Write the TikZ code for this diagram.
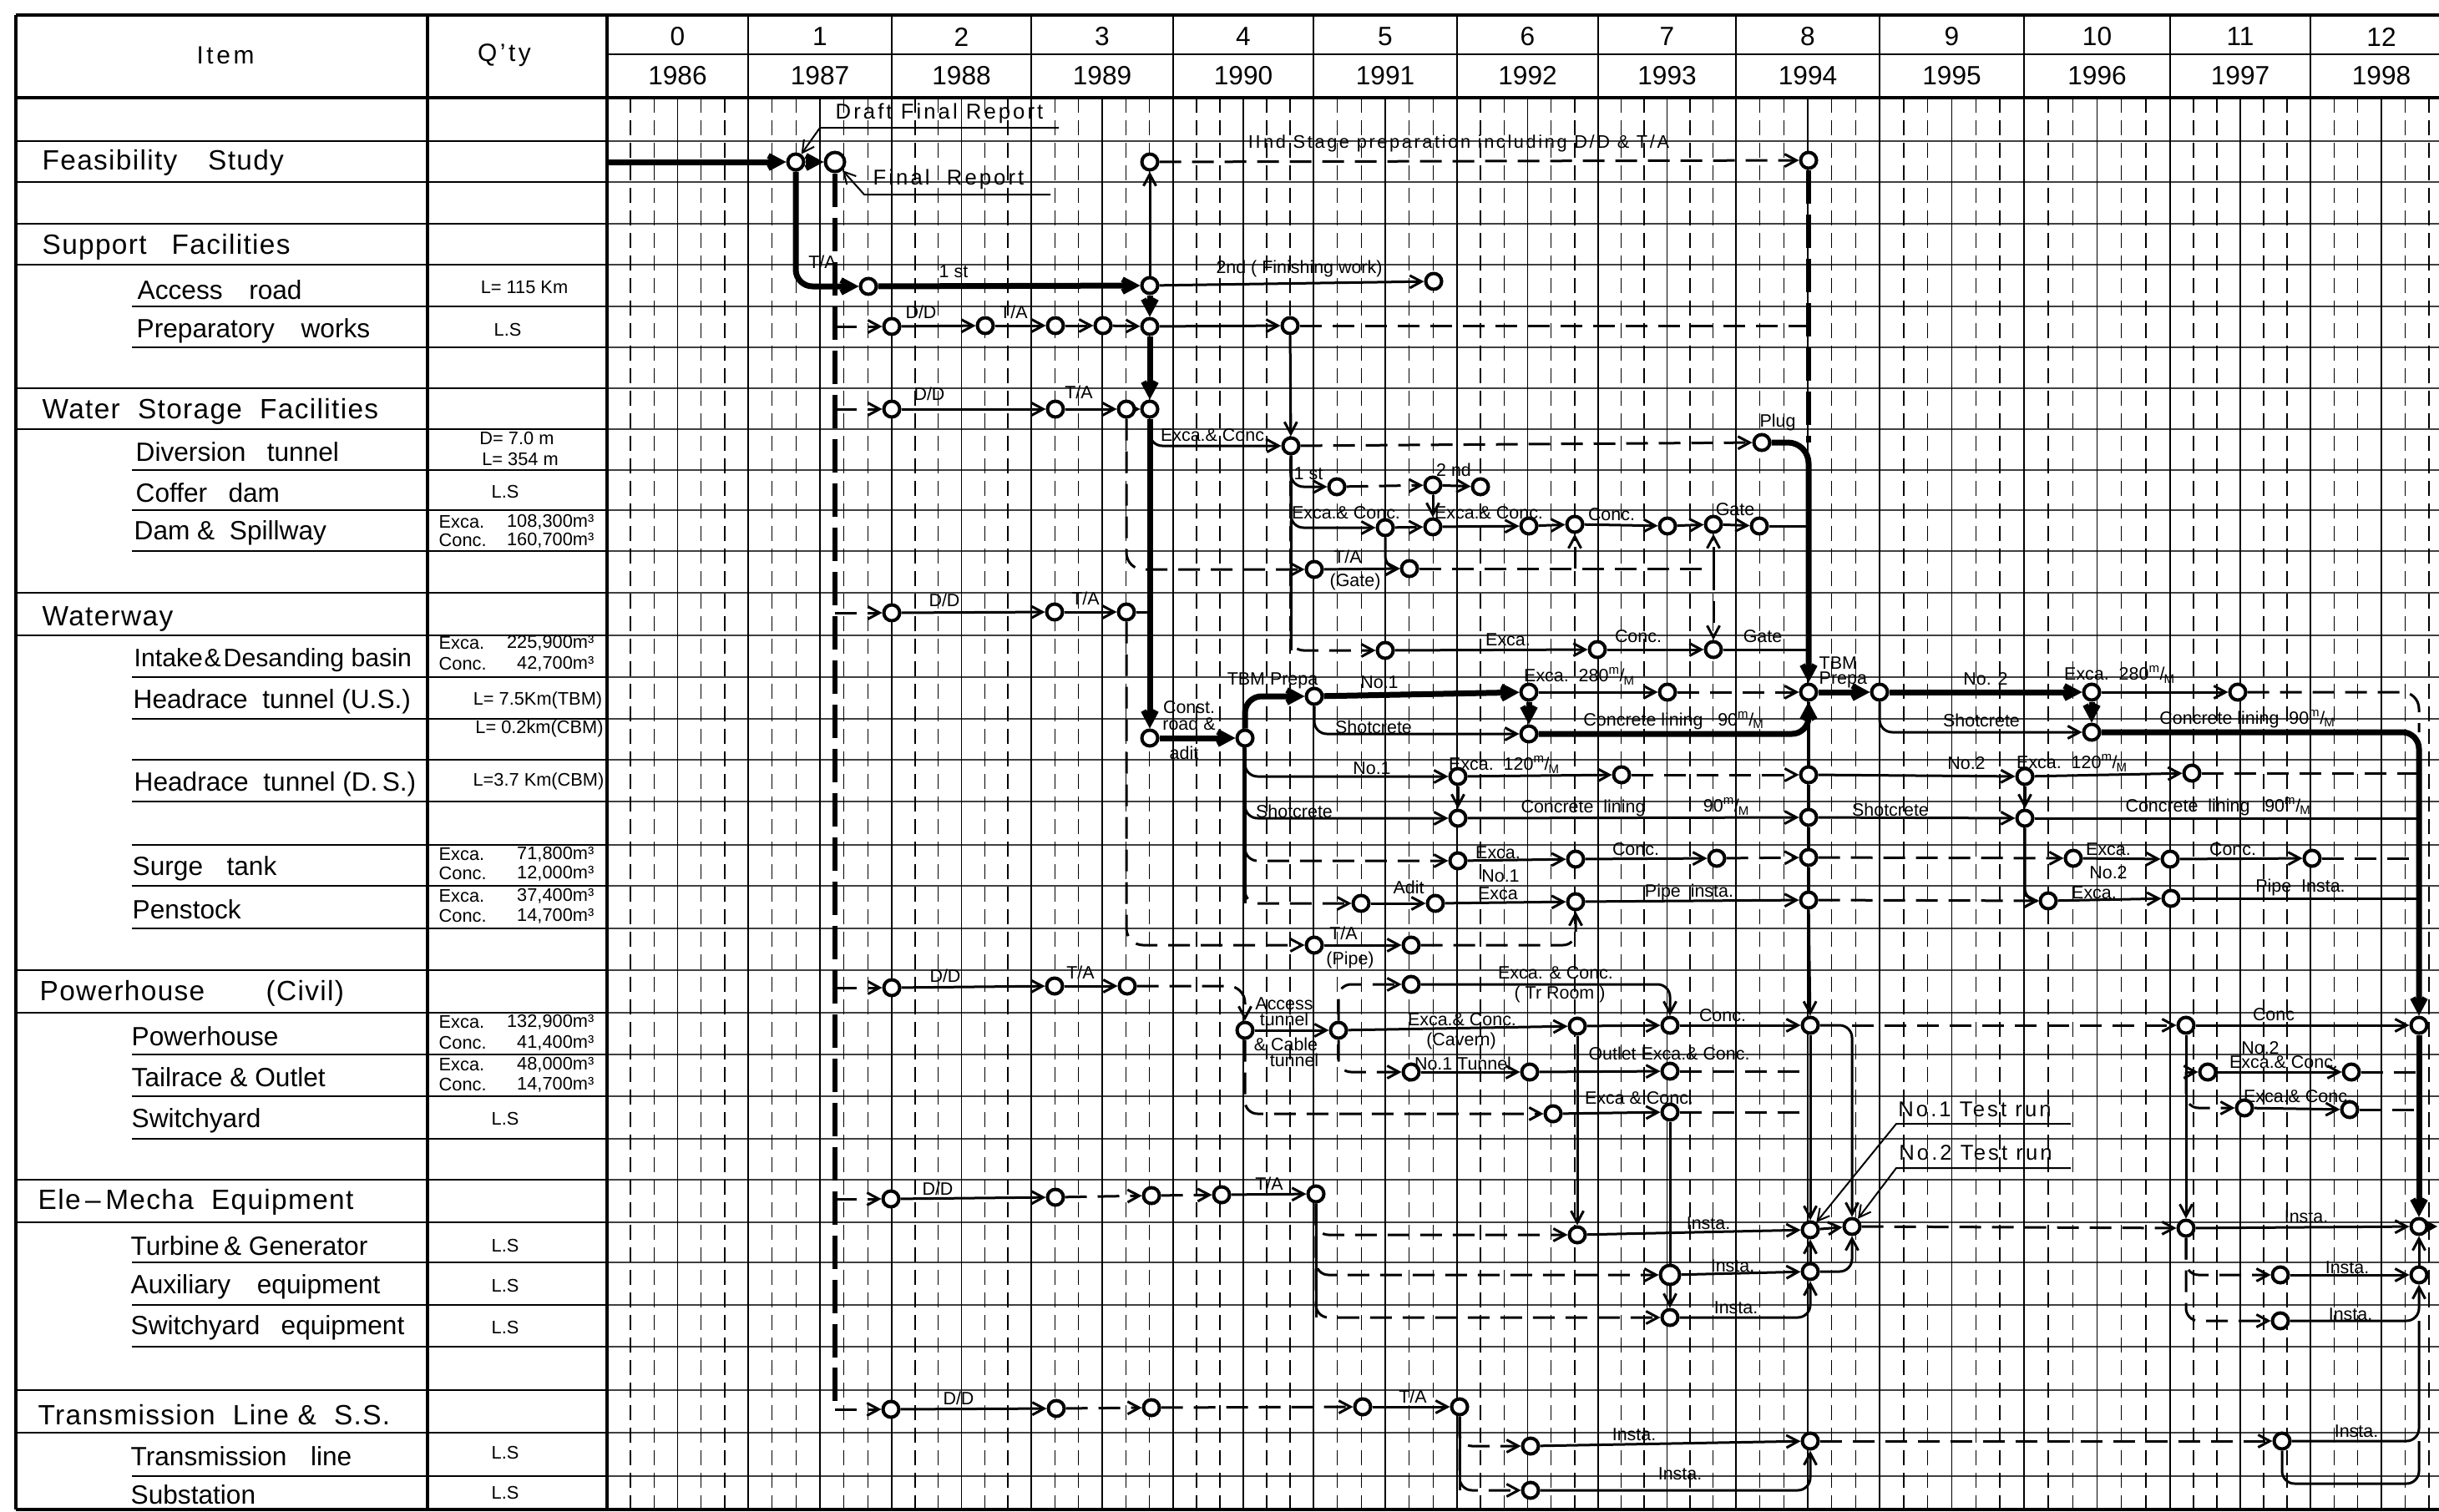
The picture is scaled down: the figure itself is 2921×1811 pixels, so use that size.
\documentclass[tikz,border=0pt]{standalone}
\usepackage{fontspec}
\setmainfont{Liberation Sans}
\newfontfamily\widefont[LetterSpace=12]{Liberation Sans}
\newfontfamily\tabfont[LetterSpace=4]{Liberation Sans}
\usetikzlibrary{arrows.meta}
\pgfdeclarelayer{gridlayer}
\pgfdeclarelayer{edgelayer}
\pgfsetlayers{gridlayer,edgelayer,main}
\newcommand\mpm{\textsuperscript{m}\kern-0.05em/\kern-0.05em\textsubscript{M}}
\tikzset{
  ev/.style={circle,draw,line width=0.4mm,minimum size=1.9mm,inner sep=0pt,fill=white},
  evb/.style={ev,minimum size=2.3mm},
  cn/.style={line width=0.3mm},
  thk/.style={line width=0.7mm},
  dsh/.style={line width=0.3mm,dash pattern=on 2.6mm off 1.3mm},
  spine/.style={line width=0.55mm,dash pattern=on 4mm off 1.3mm},
  arr/.style={-{Straight Barb[length=1.4mm,width=1.5mm]}},
  rc/.style={rounded corners=1.5mm},
  ldr/.style={line width=0.2mm},
  lb/.style={font=\fontsize{6.1}{6.7}\selectfont,inner sep=0pt},
  ann/.style={font=\widefont\fontsize{7.3}{8}\selectfont,inner sep=0pt},
  hd/.style={font=\tabfont\fontsize{9.5}{11}\selectfont,anchor=west,inner sep=0pt},
  si/.style={font=\fontsize{9}{11}\selectfont,anchor=west,inner sep=0pt},
  qt/.style={font=\fontsize{6.2}{7}\selectfont,inner sep=0pt},
  qw/.style={qt,anchor=west},
  qe/.style={qt,anchor=east},
  yr/.style={font=\fontsize{9}{10}\selectfont,inner sep=0pt},
  tframe/.style={line width=0.45mm},
  tline/.style={line width=0.15mm},
  rowl/.style={line width=0.13mm,black!75},
  gy/.style={line width=0.22mm},
  gh/.style={line width=0.16mm},
  gd/.style={line width=0.16mm,dash pattern=on 1.8mm off 0.9mm},
}
\begin{document}
\begin{tikzpicture}[x=0.1mm,y=-0.1mm]
\useasboundingbox (0,0) rectangle (2921,1811);
\begin{pgfonlayer}{gridlayer}
\fill[white] (0,0) rectangle (2921,1811);
\foreach \yv in {169,218,268,317,367,416,465,514,563,611,660,710,761,811,861,910,960,1012,1061,1112,1162,1213,1263,1313,1364,1413,1464,1512,1563,1613,1665,1716,1768}
  {\draw[rowl] (727,\yv) -- (2921,\yv);}
\foreach \a/\b [count=\i from 0] in {727/896,896/1068,1068/1235,1235/1405,1405/1573,1573/1745,1745/1914,1914/2079,2079/2251,2251/2424,2424/2599,2599/2767,2767/2937}{
  \pgfmathsetmacro\ww{(\b-\a)/6}
  \foreach \k in {1,2,4,5}{\draw[gd] ({\a+\k*\ww},117) -- ({\a+\k*\ww},1808);}
  \draw[gh] ({\a+3*\ww},117) -- ({\a+3*\ww},1808);
  \ifnum\i<12 \draw[gy] (\b,18) -- (\b,1808);\fi
  \pgfmathtruncatemacro\yrv{1986+\i}
  \node[yr] (yi\i) at ({(\a+\b)/2},44) {\i};
  \node[yr] (yy\i) at ({(\a+\b)/2},91) {\yrv};
}
\foreach \yv in {169,218,268,317,465,514,710,761,1162,1213,1413,1464,1665,1716}
  {\draw[tline] (19,\yv) -- (727,\yv);}
\foreach \yv in {367,416,563,611,660,811,861,910,960,1012,1061,1112,1263,1313,1364,1512,1563,1613,1768}
  {\draw[tline] (158,\yv) -- (727,\yv);}
\draw[tframe] (19,18) -- (2921,18);
\draw[tframe] (19,117) -- (2921,117);
\draw[tframe] (19,18) -- (19,1808);
\draw[tframe] (512,18) -- (512,1808);
\draw[tframe] (727,18) -- (727,1808);
\draw[tframe] (19,1808) -- (2921,1808);
\draw[tline] (727,65) -- (2921,65);
\end{pgfonlayer}

% ---------- table text
\node[font=\widefont\fontsize{8.5}{10}\selectfont,inner sep=0pt] (hItem) at (270,66) {Item};
\node[font=\widefont\fontsize{8.5}{10}\selectfont,inner sep=0pt] (hQty) at (604,66) {Q’ty};
\node[hd] (i1) at (50,195) {Feasibility\hspace{1.1em}Study};
\node[hd] (i2) at (50,296) {Support\hspace{0.9em}Facilities};
\node[si] (i3) at (164,347) {Access\hspace{1em}road};
\node[si] (i4) at (163,396) {Preparatory\hspace{1em}works};
\node[hd] (i5) at (50,493) {Water\ \ Storage\ \ Facilities};
\node[si] (i6) at (162,541) {Diversion\hspace{0.8em}tunnel};
\node[si] (i7) at (162,590) {Coffer\hspace{0.8em}dam};
\node[si] (i8) at (160,638) {Dam\ \&\ \ Spillway};
\node[hd] (i9) at (50,741) {Waterway};
\node[si,font=\fontsize{8.6}{10}\selectfont] (i10) at (160,791) {Intake\kern0.05em\&\kern0.1em Desanding basin};
\node[si] (i11) at (159,840) {Headrace\ \ tunnel\ (U.S.)};
\node[si] (i12) at (160,939) {Headrace\ \ tunnel\ (D.\,S.)};
\node[si] (i13) at (158,1040) {Surge\hspace{0.9em}tank};
\node[si] (i14) at (158,1089) {Penstock};
\node[hd] (i15) at (47,1190) {Powerhouse\hspace{2.2em}(Civil)};
\node[si] (i16) at (157,1241) {Powerhouse};
\node[si] (i17) at (157,1290) {Tailrace\ \&\ Outlet};
\node[si] (i18) at (157,1342) {Switchyard};
\node[hd] (i19) at (45,1440) {Ele\,–\,Mecha\ \ Equipment};
\node[si] (i20) at (156,1492) {Turbine\,\&\ Generator};
\node[si] (i21) at (156,1541) {Auxiliary\hspace{1em}equipment};
\node[si] (i22) at (156,1590) {Switchyard\hspace{0.8em}equipment};
\node[hd] (i23) at (45,1695) {Transmission\ \ Line\ \&\ \ S.S.};
\node[si] (i24) at (156,1744) {Transmission\hspace{0.9em}line};
\node[si] (i25) at (156,1790) {Substation};

\node[qt] (q1) at (628,344) {L= 115 Km};
\node[qt] (q2) at (608,395) {L.S};
\node[qt] (q3) at (619,525) {D=\ 7.0 m};
\node[qt] (q4) at (623,550) {L=\ 354 m};
\node[qt] (q5) at (605,589) {L.S};
\node[qw] (q6) at (525,625) {Exca.};   \node[qe] (q7) at (712,625) {108,300m³};
\node[qw] (q8) at (525,647) {Conc.};   \node[qe] (q9) at (712,647) {160,700m³};
\node[qw] (q10) at (525,770) {Exca.};  \node[qe] (q11) at (712,770) {225,900m³};
\node[qw] (q12) at (525,795) {Conc.};  \node[qe] (q13) at (712,795) {42,700m³};
\node[qt] (q14) at (644,839) {L= 7.5Km(TBM)};
\node[qt] (q15) at (646,873) {L= 0.2km(CBM)};
\node[qt] (q16) at (645,936) {L=3.7 Km(CBM)};
\node[qw] (q17) at (525,1023) {Exca.};  \node[qe] (q18) at (712,1023) {71,800m³};
\node[qw] (q19) at (525,1046) {Conc.};  \node[qe] (q20) at (712,1046) {12,000m³};
\node[qw] (q21) at (525,1073) {Exca.};  \node[qe] (q22) at (712,1073) {37,400m³};
\node[qw] (q23) at (525,1097) {Conc.};  \node[qe] (q24) at (712,1097) {14,700m³};
\node[qw] (q25) at (525,1224) {Exca.};  \node[qe] (q26) at (712,1224) {132,900m³};
\node[qw] (q27) at (525,1249) {Conc.};  \node[qe] (q28) at (712,1249) {41,400m³};
\node[qw] (q29) at (525,1275) {Exca.};  \node[qe] (q30) at (712,1275) {48,000m³};
\node[qw] (q31) at (525,1299) {Conc.};  \node[qe] (q32) at (712,1299) {14,700m³};
\node[qt] (q33) at (605,1340) {L.S};
\node[qt] (q34) at (605,1492) {L.S};
\node[qt] (q35) at (605,1540) {L.S};
\node[qt] (q36) at (605,1590) {L.S};
\node[qt] (q37) at (605,1740) {L.S};
\node[qt] (q38) at (605,1788) {L.S};

% ---------- events
\node[ev] (FS1) at (953,194) {};  \node[evb] (FS2) at (1000,194) {};
\node[ev] (S2a) at (1377,194) {}; \node[ev] (S2b) at (2166,192) {};
\node[ev] (AR1) at (1040,343) {}; \node[ev] (AR2) at (1377,342) {}; \node[ev] (AR3) at (1717,337) {};
\node[ev] (PW1) at (1068,391) {}; \node[ev] (PW2) at (1180,390) {}; \node[ev] (PW3) at (1264,390) {};
\node[ev] (PW4) at (1321,390) {}; \node[ev] (PW5) at (1377,391) {}; \node[ev] (PW6) at (1545,390) {};
\node[ev] (WS1) at (1068,490) {}; \node[ev] (WS2) at (1264,490) {}; \node[ev] (WS3) at (1349,490) {}; \node[ev] (WS4) at (1377,490) {};
\node[ev] (DT1) at (1546,534) {}; \node[ev] (DT2) at (2110,530) {};
\node[ev] (CD1) at (1601,583) {}; \node[ev] (CD2) at (1716,581) {}; \node[ev] (CD3) at (1773,583) {};
\node[ev] (DS1) at (1659,632) {}; \node[ev] (DS2) at (1716,631) {}; \node[ev] (DS3) at (1831,630) {};
\node[ev] (DS4) at (1886,628) {}; \node[ev] (DS5) at (1997,630) {}; \node[ev] (DS6) at (2052,628) {}; \node[ev] (DS7) at (2107,630) {};
\node[ev] (TG1) at (1574,682) {}; \node[ev] (TG2) at (1688,681) {};
\node[ev] (WW1) at (1068,734) {}; \node[ev] (WW2) at (1263,733) {}; \node[ev] (WW3) at (1349,733) {};
\node[ev] (IN1) at (1659,779) {}; \node[ev] (IN2) at (1913,778) {}; \node[ev] (IN3) at (2052,778) {};
\node[ev] (TBM1) at (1574,834) {}; \node[ev] (TBM2) at (1831,829) {}; \node[ev] (TBM3) at (1997,829) {};
\node[ev] (TBMP1) at (2166,829) {}; \node[ev] (TBMP2) at (2251,829) {}; \node[ev] (E2a) at (2505,829) {}; \node[ev] (E2b) at (2680,829) {};
\node[ev] (CR) at (1377,884) {}; \node[ev] (HR1) at (1491,884) {}; \node[ev] (CL1) at (1831,879) {}; \node[ev] (C2a) at (2505,877) {};
\node[ev] (HD1) at (1746,930) {}; \node[ev] (HD2) at (1942,928) {}; \node[ev] (HD3) at (2166,928) {};
\node[ev] (H2a) at (2425,930) {}; \node[ev] (H2b) at (2625,926) {};
\node[ev] (HD4) at (1746,980) {}; \node[ev] (HD5) at (2166,979) {}; \node[ev] (H2c) at (2425,980) {};
\node[ev] (ST1) at (1746,1031) {}; \node[ev] (ST2) at (1887,1029) {}; \node[ev] (ST3) at (2056,1028) {};
\node[ev] (ST4) at (2166,1027) {}; \node[ev] (ST5) at (2483,1028) {}; \node[ev] (ST6) at (2599,1029) {}; \node[ev] (ST7) at (2769,1028) {};
\node[ev] (PS1) at (1630,1082) {}; \node[ev] (PS2) at (1719,1082) {}; \node[ev] (PS3) at (1887,1080) {};
\node[ev] (PS4) at (2166,1078) {}; \node[ev] (PS5) at (2453,1079) {}; \node[ev] (PS6) at (2600,1076) {};
\node[ev] (TP1) at (1574,1132) {}; \node[ev] (TP2) at (1690,1132) {};
\node[ev] (PH1) at (1068,1183) {}; \node[ev] (PH2) at (1263,1181) {}; \node[ev] (PH3) at (1350,1181) {}; \node[ev] (TR1) at (1690,1179) {};
\node[ev] (AT) at (1491,1234) {}; \node[ev] (PHa) at (1603,1234) {}; \node[ev] (PHb) at (1889,1229) {};
\node[ev] (PHc) at (2000,1228) {}; \node[ev] (PHd) at (2168,1228) {}; \node[ev] (P2a) at (2618,1228) {}; \node[ev] (P2b) at (2897,1228) {};
\node[ev] (TO1) at (1690,1284) {}; \node[ev] (TO2) at (1832,1284) {}; \node[ev] (TO3) at (2000,1283) {};
\node[ev] (T2a) at (2644,1284) {}; \node[ev] (T2b) at (2816,1284) {};
\node[ev] (SW1) at (1860,1334) {}; \node[ev] (SW2) at (2000,1332) {}; \node[ev] (T3a) at (2688,1327) {}; \node[ev] (T3b) at (2814,1329) {};
\node[ev] (EM1) at (1067,1436) {}; \node[ev] (EM2) at (1264,1434) {}; \node[ev] (EM3) at (1379,1432) {};
\node[ev] (EM4) at (1463,1431) {}; \node[ev] (EM5) at (1576,1430) {};
\node[ev] (TGn1) at (1889,1479) {}; \node[ev] (TGn2) at (2168,1473) {}; \node[ev] (TRn) at (2218,1469) {};
\node[ev] (TT1) at (2618,1471) {}; \node[ev] (TT2) at (2897,1469) {};
\node[evb] (AE1) at (2000,1527) {}; \node[ev] (AE2) at (2168,1523) {}; \node[ev] (AX1) at (2731,1527) {}; \node[ev] (AX2) at (2897,1527) {};
\node[ev] (SE1) at (2000,1578) {}; \node[ev] (SX1) at (2731,1582) {};
\node[ev] (TL1) at (1067,1688) {}; \node[ev] (TL2) at (1265,1687) {}; \node[ev] (TL3) at (1379,1686) {};
\node[ev] (TL4) at (1632,1685) {}; \node[ev] (TL5) at (1748,1685) {};
\node[ev] (TLn1) at (1833,1732) {}; \node[ev] (TLn2) at (2168,1726) {}; \node[ev] (TX1) at (2733,1726) {};
\node[ev] (SS1) at (1833,1785) {};

\coordinate (st) at (727,194);
\coordinate (eR) at (2919,1469);
\coordinate (rb) at (2897,1777);
\coordinate (dfa) at (1268,153); \coordinate (dfb) at (982,153);
\coordinate (fra) at (1258,233); \coordinate (frb) at (1035,233);
\coordinate (t1a) at (2480,1346); \coordinate (t1b) at (2271,1346);
\coordinate (t2a) at (2480,1399); \coordinate (t2b) at (2271,1399);

% ---------- connectors
\begin{pgfonlayer}{edgelayer}
\draw[thk,arr] (st) -- (FS1);
\draw[thk,arr] (FS1) -- (FS2);
\draw[thk,arr,rounded corners=2mm] (FS1) |- (AR1);
\draw[thk,arr] (AR1) -- (AR2);
\draw[cn,arr] (AR2) -- (S2a);
\draw[dsh,arr] (S2a) -- (S2b);
\draw[cn,arr] (AR2) -- (AR3);
\draw[thk,arr] (AR2) -- (PW5);
\draw[thk,arr] (PW5) -- (WS4);
\draw[thk,arr] (WS4) -- (CR);
\draw[thk,arr] (CR) -- (HR1);
% spine
\draw[spine] (FS2) -- (FS2 |- TL1);
\foreach \n in {PW1,WS1,WW1,PH1,EM1,TL1}{\draw[dsh,arr] (FS2 |- \n) -- (\n);}
% preparatory works
\draw[cn,arr] (PW1) -- (PW2); \draw[cn,arr] (PW2) -- (PW3);
\draw[dsh,arr] (PW3) -- (PW4); \draw[dsh,arr] (PW4) -- (PW5);
\draw[cn,arr] (PW5) -- (PW6);
\draw[dsh] (PW6) -- (S2b |- PW6);
\draw[spine] (S2b) -- (S2b |- DT2);
\draw[cn,arr] (PW6) -- (DT1);
% water storage
\draw[cn,arr] (WS1) -- (WS2); \draw[cn,arr] (WS2) -- (WS3); \draw[cn,arr] (WS3) -- (WS4);
\draw[cn,arr,rc] (WS4) |- (DT1);
\draw[dsh,arr] (DT1) -- (DT2);
\draw[thk,arr,rounded corners=2.5mm] (DT2) -| (TBMP1);
\draw[cn] (DS7) -- (TBMP1 |- DS7);
\draw[cn] (IN3) -- (TBMP1 |- IN3);
\draw[cn] (DT1) -- (DT1 |- IN1);
\draw[cn,arr,rc] (DT1) |- (CD1);
\draw[cn,arr,rc] (DT1) |- (DS1);
\draw[dsh,arr,rc] (DT1) |- (IN1);
\draw[dsh,arr] (CD1) -- (CD2); \draw[cn,arr] (CD2) -- (CD3); \draw[cn,arr] (CD2) -- (DS2);
\draw[dsh,arr] (DS1) -- (DS2); \draw[cn,arr] (DS2) -- (DS3); \draw[dsh,arr] (DS3) -- (DS4);
\draw[cn,arr] (DS4) -- (DS5); \draw[dsh,arr] (DS5) -- (DS6); \draw[cn,arr] (DS6) -- (DS7);
\draw[cn,arr,rc] (DS1) |- (TG2);
\draw[cn,arr] (TG1) -- (TG2);
\draw[dsh,arr,rounded corners=2mm] (WS3) |- (TG1);
\draw[dsh] (TG2) -- (DS6 |- TG2);
\draw[dsh,arr] (DS4 |- TG2) -- (DS4);
\draw[dsh,arr] (DS6 |- TG2) -- (DS6);
\draw[dsh,arr] (DS6 |- TG2) -- (IN3);
\draw[cn,arr] (IN1) -- (IN2); \draw[cn,arr] (IN2) -- (IN3);
% waterway
\draw[cn,arr] (WW1) -- (WW2); \draw[cn,arr] (WW2) -- (WW3); \draw[cn] (WW3) -- (CR |- WW3);
\draw[dsh,arr,rounded corners=2mm] (WW3) |- (TP1);
% headrace US
\draw[thk,arr,rounded corners=2mm] (HR1) |- (TBM1);
\draw[thk,arr] (TBM1) -- (TBM2);
\draw[cn,arr] (TBM2) -- (TBM3);
\draw[dsh,arr] (TBM3) -- (TBMP1);
\draw[cn,arr,rc] (TBM1) |- (CL1);
\draw[thk,arr] (TBM2) -- (CL1);
\draw[thk,arr,rounded corners=2mm] (CL1) -| (TBMP1);
\draw[thk,arr] (TBMP1) -- (TBMP2);
\draw[thk,arr] (TBMP2) -- (E2a);
\draw[cn,arr] (E2a) -- (E2b);
\draw[dsh,rounded corners=2mm] (E2b) -| (P2b |- C2a);
\draw[cn,arr,rc] (TBMP2) |- (C2a);
\draw[thk,arr] (E2a) -- (C2a);
\draw[thk,arr,rounded corners=2mm] (C2a) -| (P2b);
% headrace DS
\draw[cn] (HR1) -- (HR1 |- PS1);
\draw[cn,arr,rc] (HR1) |- (HD1);
\draw[cn,arr,rc] (HR1) |- (HD4);
\draw[dsh,arr,rc] (HR1) |- (ST1);
\draw[dsh,arr,rc] (HR1) |- (PS1);
\draw[cn,arr] (HD1) -- (HD2); \draw[dsh,arr] (HD2) -- (HD3);
\draw[cn,arr] (HD1) -- (HD4); \draw[cn,arr] (HD4) -- (HD5);
\draw[cn,arr] (HD3) -- (H2a); \draw[cn,arr] (H2a) -- (H2b); \draw[dsh] (H2b) -- (P2b |- H2b);
\draw[cn,arr] (H2a) -- (H2c); \draw[cn,arr] (HD5) -- (H2c); \draw[cn] (H2c) -- (P2b |- H2c);
\draw[cn,arr,rc] (H2c) |- (PS5);
\draw[cn] (TBMP1) -- (HD3); \draw[cn] (HD3) -- (HD5); \draw[cn] (HD5) -- (ST4);
\draw[cn] (ST4) -- (PS4); \draw[cn,arr] (PS4) -- (PHd); \draw[cn,arr] (PHd) -- (TGn2);
% surge tank, penstock
\draw[cn,arr] (ST1) -- (ST2); \draw[cn,arr] (ST2) -- (ST3); \draw[dsh,arr] (ST3) -- (ST4);
\draw[dsh,arr] (ST4) -- (ST5); \draw[cn,arr] (ST5) -- (ST6); \draw[cn,arr] (ST6) -- (ST7);
\draw[dsh] (ST7) -- (P2b |- ST7);
\draw[cn,arr] (PS1) -- (PS2); \draw[cn,arr] (PS2) -- (PS3); \draw[cn,arr] (PS3) -- (PS4);
\draw[dsh,arr] (PS4) -- (PS5); \draw[cn,arr] (PS5) -- (PS6); \draw[cn] (PS6) -- (P2b |- PS6);
\draw[cn,arr] (TP1) -- (TP2); \draw[dsh,arr,rc] (TP2) -| (PS3);
% powerhouse
\draw[cn,arr] (PH1) -- (PH2); \draw[cn,arr] (PH2) -- (PH3);
\draw[dsh,arr,rounded corners=2mm] (PH3) -| (AT);
\draw[cn,arr] (AT) -- (PHa); \draw[cn,arr] (PHa) -- (PHb); \draw[cn,arr] (PHb) -- (PHc); \draw[cn,arr] (PHc) -- (PHd);
\draw[dsh,arr,rc] (PHa) |- (TR1);
\draw[cn,arr,rc] (TR1) -| (PHc);
\draw[dsh,arr,rc] (PHa) |- (TO1);
\draw[cn,arr] (TO1) -- (TO2); \draw[cn,arr] (TO2) -- (TO3);
\draw[dsh] (TO3) -- (PHd |- TO3);
\draw[dsh,arr,rc] (AT) |- (SW1);
\draw[cn,arr] (SW1) -- (SW2);
\draw[dsh] (SW2) -- (PHd |- SW2);
\draw[cn,arr] (SW2) -- (SE1);
\draw[cn,arr] (PHb) -- (TGn1);
\draw[cn,arr,rc] (PHd) -| (TRn);
\draw[dsh,arr] (TRn |- PHd) -- (P2a);
\draw[cn,arr] (P2a) -- (P2b);
\draw[cn,arr] (P2a) -- (TT1);
\draw[cn,arr] (P2a |- T2a) -- (T2a);
\draw[dsh,arr,rc] (P2a |- T2a) |- (T3a);
\draw[cn,arr] (T2a) -- (T2b); \draw[dsh] (T2b) -- (P2b |- T2b);
\draw[cn,arr] (T3a) -- (T3b); \draw[dsh] (T3b) -- (P2b |- T3b);
\draw[thk,arr] (P2b) -- (TT2);
\draw[thk,arr] (TT2) -- (eR);
% ele-mecha
\draw[cn,arr] (EM1) -- (EM2); \draw[dsh,arr] (EM2) -- (EM3); \draw[dsh,arr] (EM3) -- (EM4); \draw[cn,arr] (EM4) -- (EM5);
\draw[cn] (EM5) -- (EM5 |- SE1);
\draw[dsh,arr,rc] (EM5) |- (TGn1);
\draw[dsh,arr,rc] (EM5) |- (AE1);
\draw[dsh,arr,rc] (EM5) |- (SE1);
\draw[cn,arr] (TGn1) -- (TGn2); \draw[cn,arr] (TGn2) -- (TRn);
\draw[cn,arr] (AE1) -- (AE2); \draw[cn,arr] (AE2) -- (TGn2);
\draw[cn,arr,rc] (SE1) -| (AE2);
\draw[cn,arr,rc] (AE2) -| (TRn);
\draw[dsh,arr] (TRn) -- (TT1);
\draw[cn,arr] (TT1) -- (TT2);
\draw[dsh,arr,rc] (TT1) |- (AX1);
\draw[dsh,arr,rc] (TT1) |- (SX1);
\draw[cn,arr] (AX1) -- (AX2);
\draw[cn,arr,rc] (SX1) -| (AX2);
\draw[cn,arr] (AX2) -- (TT2);
\draw[cn,rc] (TX1) -- (AX2 |- TX1) -- (AX2 |- SX1);
\draw[cn,rc] (TX1) |- (rb) -- (AX2 |- TX1);
% transmission
\draw[cn,arr] (TL1) -- (TL2); \draw[dsh,arr] (TL2) -- (TL3); \draw[dsh,arr] (TL3) -- (TL4); \draw[cn,arr] (TL4) -- (TL5);
\draw[cn] (TL5) -- (TL5 |- SS1);
\draw[dsh,arr,rc] (TL5) |- (TLn1);
\draw[dsh,arr,rc] (TL5) |- (SS1);
\draw[cn,arr] (TLn1) -- (TLn2);
\draw[cn,arr,rc] (SS1) -| (TLn2);
\draw[dsh,arr] (TLn2) -- (TX1);
% leaders
\draw[ldr,arr] (dfa) -- (dfb) -- (FS1);
\draw[ldr,arr] (fra) -- (frb) -- (FS2);
\draw[ldr,arr] (t1a) -- (t1b) -- (TGn2);
\draw[ldr,arr] (t2a) -- (t2b) -- (TRn);
\end{pgfonlayer}

% ---------- labels
\node[ann] (c93) at (1125,136) {Draft Final Report};
\node[ann] (c94) at (1136,215) {Final\ \ Report};
\node[ann] (c79) at (2365,1329) {No.1 Test run};
\node[ann] (c80) at (2366,1381) {No.2 Test run};
\node[lb,font=\widefont\fontsize{6.2}{7}\selectfont] (c4) at (1747,172) {II\,nd Stage preparation including D/D \& T/A};
\node[lb] (c1) at (985,314) {T/A};
\node[lb] (c2) at (1142,325) {1 st};
\node[lb] (c3) at (1556,322) {2nd ( Finishing work)};
\node[lb] (c5) at (1103,374) {D/D};
\node[lb] (c6) at (1214,374) {T/A};
\node[lb] (c7) at (1113,472) {D/D};
\node[lb] (c8) at (1292,470) {T/A};
\node[lb] (c9) at (1455,521) {Exca.\& Conc.};
\node[lb] (c10) at (2129,506) {Plug};
\node[lb] (c11) at (1567,567) {1 st};
\node[lb] (c12) at (1741,563) {2 nd};
\node[lb] (c13) at (1612,614) {Exca.\& Conc.};
\node[lb] (c14) at (1783,614) {Exca.\& Conc.};
\node[lb] (c15) at (1930,616) {Conc.};
\node[lb] (c16) at (2078,610) {Gate};
\node[lb] (c17) at (1614,667) {T/A};
\node[lb] (c18) at (1623,697) {(Gate)};
\node[lb] (c19) at (1131,719) {D/D};
\node[lb] (c20) at (1300,717) {T/A};
\node[lb] (c21) at (1806,766) {Exca.};
\node[lb] (c22) at (1962,762) {Conc.};
\node[lb] (c23) at (2111,762) {Gate};
\node[lb] (c24) at (1524,815) {TBM Prepa};
\node[lb] (c25) at (1652,817) {No.1};
\node[lb] (c26) at (1892,810) {Exca.\ \ 280\mpm};
\node[lb] (c27) at (1645,871) {Shotcrete};
\node[lb] (c28) at (2005,863) {Concrete\ lining\ \ \ 90\mpm};
\node[lb] (c29) at (1424,847) {Const.};
\node[lb] (c30) at (1424,867) {road \&};
\node[lb] (c31) at (1418,902) {adit};
\node[lb,anchor=west] (c32) at (2178,794) {TBM};
\node[lb,anchor=west] (c33) at (2178,814) {Prepa};
\node[lb] (c34) at (2378,813) {No. 2};
\node[lb] (c35) at (2539,808) {Exca.\ \ 280\mpm};
\node[lb] (c36) at (2373,863) {Shotcrete};
\node[lb] (c37) at (2692,861) {Concrete\ lining\ \ 90\mpm};
\node[lb] (c38) at (1643,920) {No.1};
\node[lb] (c39) at (1802,916) {Exca.\ \ 120\mpm};
\node[lb] (c40) at (1550,972) {Shotcrete};
\node[lb] (c41) at (1896,968) {Concrete\ \ lining};
\node[lb] (c42) at (2068,966) {90\mpm};
\node[lb] (c43) at (2355,914) {No.2};
\node[lb] (c44) at (2482,914) {Exca.\ \ 120\mpm};
\node[lb] (c45) at (2264,970) {Shotcrete};
\node[lb] (c46) at (2657,966) {Concrete\ \ lining\ \ \ 90\mpm};
\node[lb] (c47) at (1794,1021) {Exca.};
\node[lb] (c48) at (1959,1017) {Conc.};
\node[lb] (c49) at (1797,1049) {No.1};
\node[lb] (c50) at (1794,1070) {Exca};
\node[lb] (c51) at (1687,1063) {Adit};
\node[lb] (c52) at (2023,1069) {Pipe\ \ insta.};
\node[lb] (c53) at (2525,1017) {Exca.};
\node[lb] (c54) at (2525,1045) {No.2};
\node[lb] (c55) at (2674,1017) {Conc.};
\node[lb] (c56) at (2508,1069) {Exca.};
\node[lb] (c57) at (2755,1063) {Pipe\ \ Insta.};
\node[lb] (c58) at (1609,1118) {T/A};
\node[lb] (c59) at (1617,1150) {(Pipe)};
\node[lb] (c60) at (1132,1169) {D/D};
\node[lb] (c61) at (1294,1165) {T/A};
\node[lb] (c62) at (1863,1165) {Exca. \& Conc.};
\node[lb] (c63) at (1868,1191) {( Tr Room )};
\node[lb] (c64) at (1538,1202) {Access};
\node[lb] (c65) at (1538,1221) {tunnel};
\node[lb] (c66) at (1540,1251) {\& Cable};
\node[lb] (c67) at (1550,1270) {tunnel};
\node[lb] (c68) at (1751,1221) {Exca.\& Conc.};
\node[lb] (c69) at (1750,1247) {(Cavern)};
\node[lb] (c70) at (2063,1216) {Conc.};
\node[lb] (c71) at (1752,1274) {No.1 Tunnel};
\node[lb] (c72) at (1999,1262) {Outlet\ Exca.\& Conc.};
\node[lb] (c73) at (1963,1315) {Exca \& Conc.};
\node[lb] (c74) at (1123,1424) {D/D};
\node[lb] (c75) at (1520,1418) {T/A};
\node[lb] (c76) at (2046,1465) {Insta.};
\node[lb] (c77) at (2075,1516) {Insta.};
\node[lb] (c78) at (2079,1566) {Insta.};
\node[lb] (c81) at (2723,1215) {Conc};
\node[lb] (c82) at (2707,1255) {No.2};
\node[lb] (c83) at (2735,1272) {Exca.\& Conc.};
\node[lb] (c84) at (2752,1313) {Exca.\& Conc.};
\node[lb] (c85) at (2762,1457) {Insta.};
\node[lb] (c86) at (2811,1518) {Insta.};
\node[lb] (c87) at (2815,1574) {Insta.};
\node[lb] (c88) at (2822,1714) {Insta.};
\node[lb] (c89) at (1148,1675) {D/D};
\node[lb] (c90) at (1692,1673) {T/A};
\node[lb] (c91) at (1957,1718) {Insta.};
\node[lb] (c92) at (2012,1765) {Insta.};
\end{tikzpicture}
\end{document}
